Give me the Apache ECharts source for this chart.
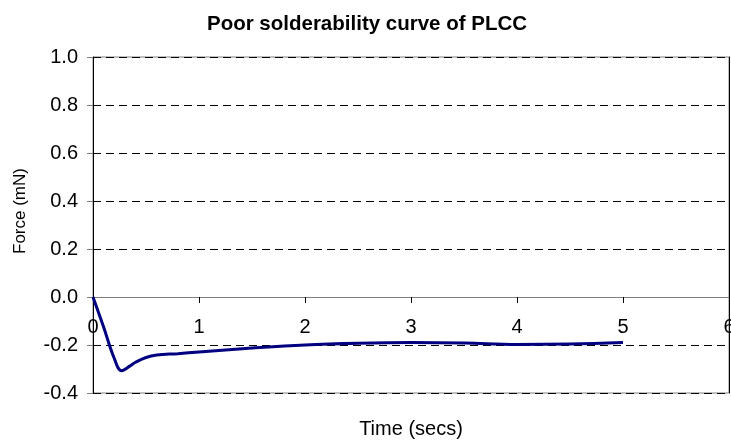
<!DOCTYPE html>
<html>
<head>
<meta charset="utf-8">
<title>Poor solderability curve of PLCC</title>
<script src="https://cdn.jsdelivr.net/npm/echarts@6/dist/echarts.min.js"></script>
<style>
  html, body { margin: 0; padding: 0; background: #fff; }
  #chart { width: 731px; height: 442px; }
</style>
</head>
<body>
<div id="chart"></div>
<script>
// 读图得到的数据 (secs, mN)
const timeSecs = [0, 0.1, 0.2, 0.27, 0.35, 0.4, 0.5, 0.6, 0.8, 1.0, 1.5, 2.0, 2.5, 3.0, 3.5, 4.0, 4.5, 5.0]
const forceMN = [0, -0.125, -0.255, -0.307, -0.287, -0.272, -0.252, -0.242, -0.236, -0.229, -0.213, -0.2, -0.193, -0.19, -0.192, -0.198, -0.196, -0.19]
const xTicks = [0, 1, 2, 3, 4, 5, 6]
const yTicks = [-0.4, -0.2, 0, 0.2, 0.4, 0.6, 0.8, 1.0]

const font = 'Liberation Sans, Arial, sans-serif'
const points = timeSecs.map((t, i) => [t, forceMN[i]])

// 绘图区位置
const gridTop = 57
const gridBottom = 49
const plotH = 442 - gridTop - gridBottom
// x 轴放在 0 处: 用 offset 往上移 (v6 里 onZero 不带标签)
const yMin = yTicks[0]
const yMax = yTicks[yTicks.length - 1]
const zeroOffset = -plotH * (0 - yMin) / (yMax - yMin)

const mychart = echarts.init(document.getElementById('chart'))
mychart.setOption({
  animation: false,
  title: {
    text: 'Poor solderability curve of PLCC',
    left: 362,
    textAlign: 'center',
    top: 9,
    textStyle: { fontFamily: font, fontSize: 20.5, fontWeight: 'bold', color: '#000' },
  },
  // 绘图区边框: 上下灰色, 虚线网格叠在上面
  grid: {
    left: 93,
    right: 2,
    top: gridTop,
    bottom: gridBottom,
    outerBoundsMode: 'none',
    containLabel: false,
    show: true,
    borderColor: '#808080',
    borderWidth: 1,
  },
  xAxis: {
    type: 'value',
    position: 'bottom',
    offset: zeroOffset,
    min: xTicks[0],
    max: xTicks[xTicks.length - 1],
    interval: 1,
    name: 'Time (secs)',
    nameLocation: 'middle',
    nameGap: 122,
    nameTextStyle: { fontFamily: font, fontSize: 20, color: '#000' },
    axisLine: { onZero: false, lineStyle: { color: '#808080', width: 1 } },
    axisTick: { show: true, length: 6, lineStyle: { color: '#000' } },
    axisLabel: { fontFamily: font, fontSize: 20, color: '#000', margin: 20 },
    splitLine: { show: false },
  },
  yAxis: [
    {
      type: 'value',
      min: yMin,
      max: yMax,
      interval: 0.2,
      name: 'Force (mN)',
      nameLocation: 'middle',
      nameGap: 64,
      nameTextStyle: { fontFamily: font, fontSize: 17, color: '#000', padding: [0, 0, 0, 28] },
      axisLine: { show: true, onZero: false, lineStyle: { color: '#000', width: 1 } },
      axisTick: { show: true, length: 6, lineStyle: { color: '#808080' } },
      axisLabel: {
        fontFamily: font,
        fontSize: 20,
        color: '#000',
        margin: 15,
        formatter: (v) => v.toFixed(1),
      },
      splitLine: { show: true, lineStyle: { color: '#000', type: [8, 5], width: 1 } },
    },
    {
      // 右侧黑色边线
      type: 'value',
      position: 'right',
      min: yMin,
      max: yMax,
      axisLine: { show: true, onZero: false, lineStyle: { color: '#000', width: 1 } },
      axisTick: { show: false },
      axisLabel: { show: false },
      splitLine: { show: false },
    },
  ],
  series: [
    {
      type: 'line',
      data: points,
      smooth: 0.4,
      showSymbol: false,
      lineStyle: { color: '#000080', width: 3 },
      z: 5,
    },
  ],
})
</script>
</body>
</html>
